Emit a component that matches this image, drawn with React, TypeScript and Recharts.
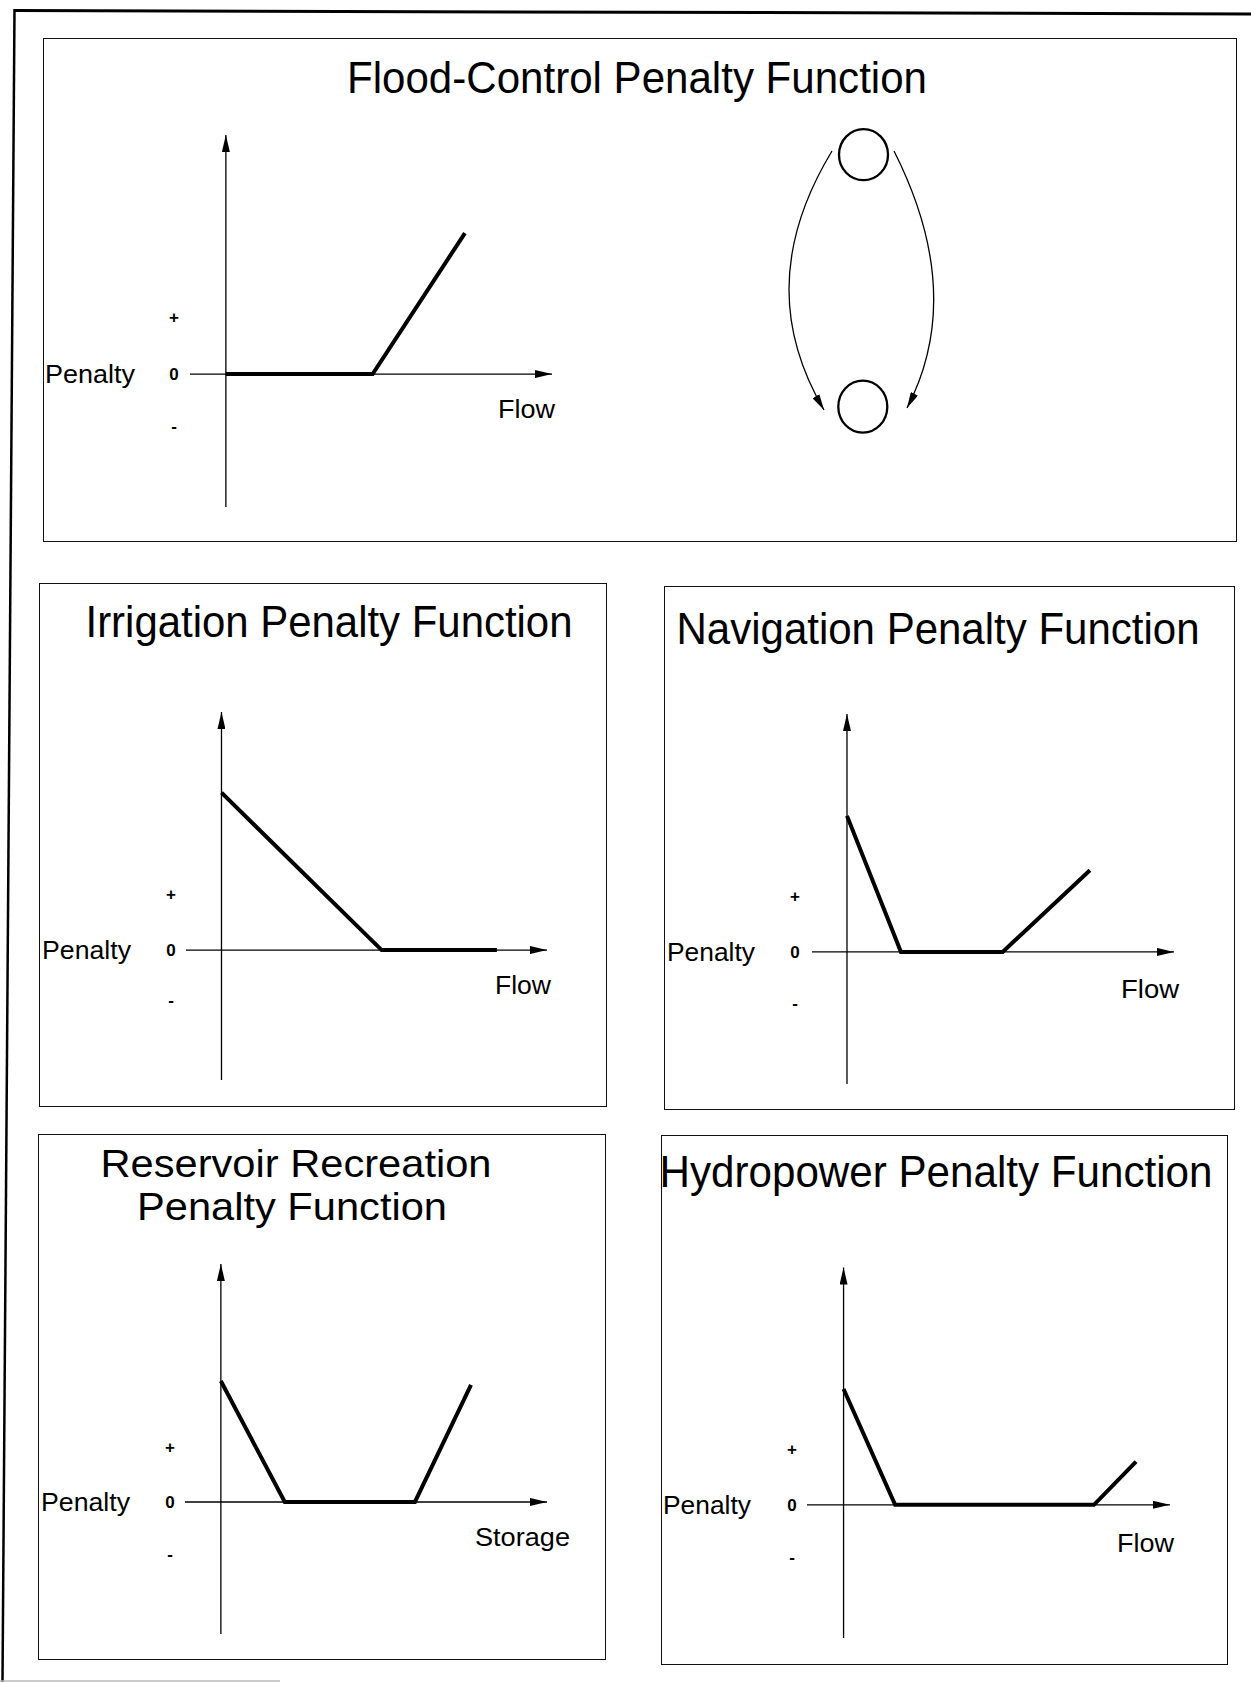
import React from 'react';
import { LineChart, Line, XAxis, YAxis, ReferenceLine, Customized } from 'recharts';

const FONT = '"Liberation Sans", Arial, Helvetica, sans-serif';

// ---------------- data ----------------
const penaltyTickLabels = ['-', '0', '+'];

const floodTitle = ['Flood-Control Penalty Function'];
const floodXLabel = 'Flow';
const floodFlow = [0, 4.5, 7.33];
const floodPenalty = [0, 0, 2.47];
const floodTicks = [-0.91, 0, 1];
const floodXDomain = [-1.1, 10];
const floodYDomain = [-2.33, 4.19];

const irrigationTitle = ['Irrigation Penalty Function'];
const irrigationXLabel = 'Flow';
const irrigationFlow = [0, 4.92, 8.46];
const irrigationPenalty = [2.81, 0, 0];
const irrigationTicks = [-0.89, 0, 1];
const irrigationXDomain = [-1.09, 10];
const irrigationYDomain = [-2.32, 4.25];

const navigationTitle = ['Navigation Penalty Function'];
const navigationXLabel = 'Flow';
const navigationFlow = [0, 1.65, 4.76, 7.43];
const navigationPenalty = [2.43, 0, 0, 1.46];
const navigationTicks = [-0.91, 0, 1];
const navigationXDomain = [-1.07, 10];
const navigationYDomain = [-2.36, 4.25];

const recreationTitle = ['Reservoir Recreation', 'Penalty Function'];
const recreationXLabel = 'Storage';
const recreationStorage = [0, 1.96, 5.95, 7.67];
const recreationPenalty = [2.18, 0, 0, 2.11];
const recreationTicks = [-0.93, 0, 1];
const recreationXDomain = [-1.1, 10];
const recreationYDomain = [-2.38, 4.29];

const hydropowerTitle = ['Hydropower Penalty Function'];
const hydropowerXLabel = 'Flow';
const hydropowerFlow = [0, 1.58, 7.67, 8.96];
const hydropowerPenalty = [2.07, 0, 0, 0.77];
const hydropowerTicks = [-0.93, 0, 1];
const hydropowerXDomain = [-1.12, 10];
const hydropowerYDomain = [-2.38, 4.24];

// ---------------- layout (page px) ----------------
type Layout = {
  box: number[];
  plot: number[];
  tickX: number;
  penaltyX: number;
  penaltyW: number;
  titleSize: number;
  titles: { cx: number; y: number; w: number }[];
  axisLabel: { x: number; y: number; w: number };
};

const floodLayout: Layout = {
  box: [43, 38, 1237, 542],
  plot: [190, 135, 552, 507],
  tickX: 174,
  penaltyX: 45,
  penaltyW: 90,
  titleSize: 44,
  titles: [{ cx: 637, y: 93, w: 580 }],
  axisLabel: { x: 498, y: 418, w: 57 },
};
const irrigationLayout: Layout = {
  box: [39, 583, 607, 1107],
  plot: [186, 712, 547, 1080],
  tickX: 171,
  penaltyX: 42,
  penaltyW: 89,
  titleSize: 44,
  titles: [{ cx: 329, y: 637, w: 487 }],
  axisLabel: { x: 495, y: 994, w: 56 },
};
const navigationLayout: Layout = {
  box: [664, 586, 1235, 1110],
  plot: [812, 714, 1174, 1084],
  tickX: 795,
  penaltyX: 667,
  penaltyW: 88,
  titleSize: 44,
  titles: [{ cx: 938, y: 644, w: 523 }],
  axisLabel: { x: 1121, y: 998, w: 58 },
};
const recreationLayout: Layout = {
  box: [38, 1134, 606, 1660],
  plot: [185, 1264, 547, 1634],
  tickX: 170,
  penaltyX: 41,
  penaltyW: 89,
  titleSize: 39,
  titles: [
    { cx: 296, y: 1177, w: 391 },
    { cx: 292, y: 1220, w: 310 },
  ],
  axisLabel: { x: 475, y: 1546, w: 95 },
};
const hydropowerLayout: Layout = {
  box: [661, 1135, 1228, 1665],
  plot: [807, 1267.5, 1170, 1638],
  tickX: 792,
  penaltyX: 663,
  penaltyW: 88,
  titleSize: 44,
  titles: [{ cx: 936, y: 1187, w: 553 }],
  axisLabel: { x: 1117, y: 1552, w: 57 },
};

const axisShape = (p: any) => (
  <line
    x1={p.x1}
    y1={p.y1}
    x2={p.x2}
    y2={p.y2}
    stroke="#000"
    strokeWidth={1.3}
    markerEnd="url(#axisArrow)"
  />
);

function CycleDiagram() {
  return (
    <g fill="none" stroke="#000">
      <ellipse cx={863.5} cy={154.7} rx={24.5} ry={25.5} strokeWidth={2.3} />
      <ellipse cx={862.8} cy={406.7} rx={24.5} ry={26} strokeWidth={2.3} />
      <path d="M 832 151 C 772 250, 780 335, 824 410" strokeWidth={1.3} markerEnd="url(#arcArrow)" />
      <path d="M 894 151 C 944 250, 945 335, 907 408" strokeWidth={1.3} markerEnd="url(#arcArrow)" />
    </g>
  );
}

function Panel(props: {
  title: string[];
  xLabel: string;
  xs: number[];
  ys: number[];
  ticks: number[];
  xDomain: number[];
  yDomain: number[];
  layout: Layout;
  extra?: React.ReactNode;
}) {
  const { title, xLabel, xs, ys, ticks, xDomain, yDomain, layout, extra } = props;
  const [bL, bT, bR, bB] = layout.box;
  const [pL, pT, pR, pB] = layout.plot;
  const pad = 18;
  const cl = bL - pad;
  const ct = bT - pad;
  const cw = bR - bL + 2 * pad;
  const ch = bB - bT + 2 * pad;
  const YW = 60;
  const data = xs.map((x, i) => ({ x, y: ys[i] }));
  const margin = {
    top: pT - ct,
    right: cl + cw - pR,
    bottom: ct + ch - pB,
    left: pL - cl - YW,
  };

  const renderTick = (p: any) => {
    const v = p.payload.value;
    const i = ticks.indexOf(v);
    return (
      <g>
        <text
          x={layout.tickX - cl}
          y={p.y}
          dy="0.36em"
          textAnchor="middle"
          fontSize={17}
          fontWeight="bold"
          fontFamily={FONT}
          fill="#000"
        >
          {penaltyTickLabels[i]}
        </text>
        {v === 0 && (
          <text
            x={layout.penaltyX - cl}
            y={p.y}
            dy="0.36em"
            fontSize={26}
            fontFamily={FONT}
            fill="#000"
            textLength={layout.penaltyW}
            lengthAdjust="spacingAndGlyphs"
          >
            Penalty
          </text>
        )}
      </g>
    );
  };

  const overlay = (
    <g transform={`translate(${-cl},${-ct})`} fontFamily={FONT} fill="#000">
      {title.map((t, i) => (
        <text
          key={i}
          x={layout.titles[i].cx}
          y={layout.titles[i].y}
          textAnchor="middle"
          fontSize={layout.titleSize}
          textLength={layout.titles[i].w}
          lengthAdjust="spacingAndGlyphs"
        >
          {t}
        </text>
      ))}
      <text
        x={layout.axisLabel.x}
        y={layout.axisLabel.y}
        fontSize={26}
        textLength={layout.axisLabel.w}
        lengthAdjust="spacingAndGlyphs"
      >
        {xLabel}
      </text>
      {extra}
    </g>
  );

  return (
    <>
      <div
        style={{
          position: 'absolute',
          left: bL,
          top: bT,
          width: bR - bL,
          height: bB - bT,
          border: '1.5px solid #111',
          boxSizing: 'border-box',
        }}
      />
      <div style={{ position: 'absolute', left: cl, top: ct }}>
        <LineChart width={cw} height={ch} data={data} margin={margin}>
          <XAxis type="number" dataKey="x" domain={xDomain as any} hide allowDataOverflow />
          <YAxis
            type="number"
            domain={yDomain as any}
            ticks={ticks}
            width={YW}
            axisLine={false}
            tickLine={false}
            interval={0}
            allowDataOverflow
            tick={renderTick}
          />
          <ReferenceLine
            segment={[
              { x: 0, y: yDomain[0] },
              { x: 0, y: yDomain[1] },
            ]}
            ifOverflow="visible"
            shape={axisShape}
          />
          <ReferenceLine
            segment={[
              { x: xDomain[0], y: 0 },
              { x: xDomain[1], y: 0 },
            ]}
            ifOverflow="visible"
            shape={axisShape}
          />
          <Line
            type="linear"
            dataKey="y"
            stroke="#000"
            strokeWidth={4}
            dot={false}
            activeDot={false}
            isAnimationActive={false}
          />
          <Customized component={overlay} />
        </LineChart>
      </div>
    </>
  );
}

export default function App() {
  return (
    <div
      style={{
        position: 'absolute',
        left: 0,
        top: 0,
        width: 1251,
        height: 1682,
        background: '#fff',
        overflow: 'hidden',
        fontFamily: FONT,
      }}
    >
      <svg width={0} height={0} style={{ position: 'absolute' }}>
        <defs>
          <marker
            id="axisArrow"
            viewBox="0 0 17 8"
            refX={17}
            refY={4}
            markerWidth={17}
            markerHeight={8}
            markerUnits="userSpaceOnUse"
            orient="auto"
          >
            <path d="M0,0 L17,4 L0,8 z" fill="#000" />
          </marker>
          <marker
            id="arcArrow"
            viewBox="0 0 16 8"
            refX={16}
            refY={4}
            markerWidth={16}
            markerHeight={8}
            markerUnits="userSpaceOnUse"
            orient="auto"
          >
            <path d="M0,0 L16,4 L0,8 z" fill="#000" />
          </marker>
        </defs>
      </svg>
      <svg width={1251} height={1682} style={{ position: 'absolute', left: 0, top: 0 }}>
        <line x1={14} y1={10.5} x2={1251} y2={14} stroke="#000" strokeWidth={3} />
        <line x1={14.5} y1={9} x2={2.5} y2={1682} stroke="#000" strokeWidth={2.5} />
        <line x1={0} y1={1681} x2={280} y2={1681} stroke="#bbb" strokeWidth={1.5} />
      </svg>
      <Panel
        title={floodTitle}
        xLabel={floodXLabel}
        xs={floodFlow}
        ys={floodPenalty}
        ticks={floodTicks}
        xDomain={floodXDomain}
        yDomain={floodYDomain}
        layout={floodLayout}
        extra={<CycleDiagram />}
      />
      <Panel
        title={irrigationTitle}
        xLabel={irrigationXLabel}
        xs={irrigationFlow}
        ys={irrigationPenalty}
        ticks={irrigationTicks}
        xDomain={irrigationXDomain}
        yDomain={irrigationYDomain}
        layout={irrigationLayout}
      />
      <Panel
        title={navigationTitle}
        xLabel={navigationXLabel}
        xs={navigationFlow}
        ys={navigationPenalty}
        ticks={navigationTicks}
        xDomain={navigationXDomain}
        yDomain={navigationYDomain}
        layout={navigationLayout}
      />
      <Panel
        title={recreationTitle}
        xLabel={recreationXLabel}
        xs={recreationStorage}
        ys={recreationPenalty}
        ticks={recreationTicks}
        xDomain={recreationXDomain}
        yDomain={recreationYDomain}
        layout={recreationLayout}
      />
      <Panel
        title={hydropowerTitle}
        xLabel={hydropowerXLabel}
        xs={hydropowerFlow}
        ys={hydropowerPenalty}
        ticks={hydropowerTicks}
        xDomain={hydropowerXDomain}
        yDomain={hydropowerYDomain}
        layout={hydropowerLayout}
      />
    </div>
  );
}
